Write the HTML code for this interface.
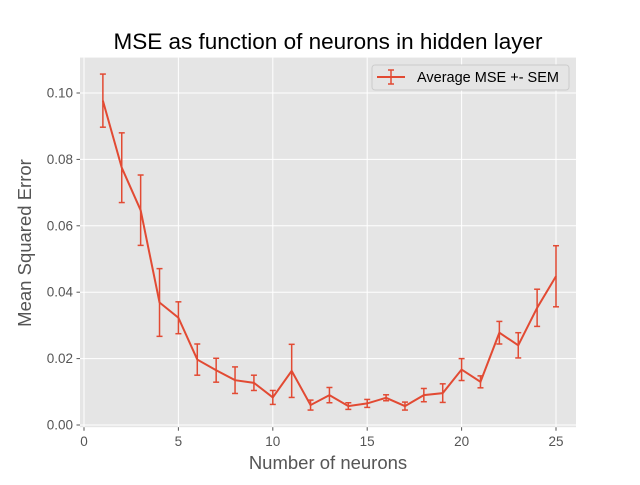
<!DOCTYPE html>
<html><head><meta charset="utf-8"><style>
body{margin:0;background:#fff;}
svg text{font-family:"Liberation Sans","DejaVu Sans",sans-serif;}
</style></head><body>
<svg id="chart" width="640" height="480" xmlns="http://www.w3.org/2000/svg">
<rect x="80" y="57.6" width="496" height="369.6" fill="#E5E5E5"/>
<g id="grid"></g>
<g id="ticks"></g>
<g id="series"></g>
<text x="328" y="49" text-anchor="middle" font-size="22.5" fill="#000">MSE as function of neurons in hidden layer</text>
<text x="328" y="469" text-anchor="middle" font-size="18.5" fill="#555">Number of neurons</text>
<text transform="translate(31,243) rotate(-90)" text-anchor="middle" font-size="18.5" fill="#555">Mean Squared Error</text>
<g>
<rect x="372" y="65" width="197" height="25" rx="3" fill="#E5E5E5" stroke="#ccc" stroke-width="1"/>
<line x1="377" y1="77" x2="405" y2="77" stroke="#E24A33" stroke-width="2"/>
<line x1="391" y1="70" x2="391" y2="84" stroke="#E24A33" stroke-width="1.5"/>
<line x1="388" y1="70" x2="394" y2="70" stroke="#E24A33" stroke-width="1.5"/>
<line x1="388" y1="84" x2="394" y2="84" stroke="#E24A33" stroke-width="1.5"/>
<text x="417" y="82" font-size="14.5" fill="#000">Average MSE +- SEM</text>
</g>
</svg>
<script>
const neurons=[1,2,3,4,5,6,7,8,9,10,11,12,13,14,15,16,17,18,19,20,21,22,23,24,25];
const mse=[0.0977,0.0775,0.0647,0.0369,0.0323,0.0197,0.0165,0.0135,0.0127,0.0083,0.0163,0.006,0.009,0.0057,0.0065,0.0082,0.0057,0.009,0.0096,0.0167,0.013,0.0278,0.024,0.0353,0.0448];
const sem=[0.008,0.0105,0.0106,0.0102,0.0048,0.0047,0.0036,0.004,0.0023,0.0021,0.008,0.0015,0.0023,0.001,0.0012,0.0009,0.0012,0.002,0.0028,0.0033,0.0018,0.0034,0.0038,0.0056,0.0092];
const xTicks=[0,5,10,15,20,25];
const yTicks=[0.00,0.02,0.04,0.06,0.08,0.10];
const NS="http://www.w3.org/2000/svg";
function X(v){return 84+v*18.88;}
function Y(v){return 425-v*3320;}
function mk(tag,attrs,parent){const e=document.createElementNS(NS,tag);for(const k in attrs)e.setAttribute(k,attrs[k]);parent.appendChild(e);return e;}
const grid=document.getElementById('grid'),ticks=document.getElementById('ticks'),series=document.getElementById('series');
xTicks.forEach(t=>{
 const g=mk('line',{x1:X(t),x2:X(t),y1:57.6,y2:427.2,stroke:'#fff','stroke-width':1},grid);
 
 
 mk('line',{x1:X(t),x2:X(t),y1:427.2,y2:430.7,stroke:'#555','stroke-width':1},ticks);
 const l=mk('text',{x:X(t),y:446,'text-anchor':'middle','font-size':13.5,fill:'#555'},ticks);
 l.textContent=t;
 
 
});
yTicks.forEach(t=>{
 const g=mk('line',{x1:80,x2:576,y1:Y(t),y2:Y(t),stroke:'#fff','stroke-width':1},grid);
 
 
 mk('line',{x1:76.5,x2:80,y1:Y(t),y2:Y(t),stroke:'#555','stroke-width':1},ticks);
 const l=mk('text',{x:73,y:Y(t)+4.5,'text-anchor':'end','font-size':13.5,fill:'#555'},ticks);
 l.textContent=t.toFixed(2);
 
 
});
const pts=neurons.map((n,i)=>X(n)+','+Y(mse[i])).join(' ');
const pl=mk('polyline',{points:pts,fill:'none',stroke:'#E24A33','stroke-width':2},series);


neurons.forEach((n,i)=>{
 const x=X(n),t=Y(mse[i]+sem[i]),b=Y(mse[i]-sem[i]);
 const g=mk('g',{stroke:'#E24A33','stroke-width':1.5},series);
 
 
 mk('line',{x1:x,x2:x,y1:t,y2:b},g);
 mk('line',{x1:x-3,x2:x+3,y1:t,y2:t},g);
 mk('line',{x1:x-3,x2:x+3,y1:b,y2:b},g);
});
</script>
</body></html>
